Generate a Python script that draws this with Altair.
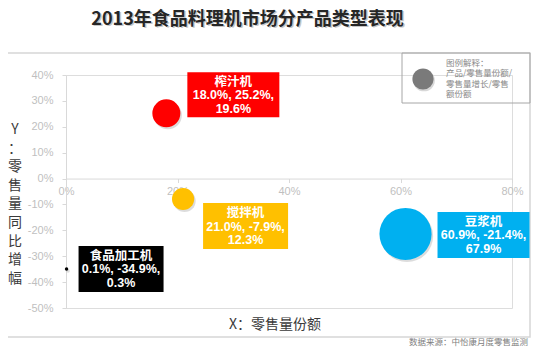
import altair as alt
import pandas as pd

# ---- data ----
products = ["榨汁机", "搅拌机", "豆浆机", "食品加工机"]
volume_share = [18.0, 21.0, 60.9, 0.1]      # X: 零售量份额 (%)
volume_growth = [25.2, -7.9, -21.4, -34.9]  # Y: 零售量同比增幅 (%)
value_share = [19.6, 12.3, 67.9, 0.3]       # bubble size: 零售额份额 (%)
x_ticks = [0, 20, 40, 60, 80]
y_ticks = [-50, -40, -30, -20, -10, 0, 10, 20, 30, 40]

title_text = "2013年食品料理机市场分产品类型表现"
x_title = "X：零售量份额"
y_title = "Y：零售量同比增幅"
legend_lines = ["图例解释：", "产品/零售量份额/", "零售量增长/零售", "额份额"]
source_text = "数据来源：中怡康月度零售监测"

# ---- styles ----
colors = ["#ff0000", "#ffc000", "#00b0f0", "#000000"]
# label box offsets (px) relative to bubble centre: dx1, dx2, dy1, dy2
box_offsets = {
    "榨汁机": (21, 113, -41, 4),
    "搅拌机": (20, 105, 4, 50),
    "豆浆机": (32, 124, -22, 24),
    "食品加工机": (12, 97, -23, 23),
}
W, H = 446, 233
CJK = "Noto Sans CJK SC"
LAT = "Liberation Sans, Noto Sans CJK SC"
LH = 13.5

df = pd.DataFrame({"name": products, "x": volume_share, "y": volume_growth, "z": value_share})
df["label"] = [f"{n}\n{x:.1f}%, {y:.1f}%,\n{z:.1f}%" for n, x, y, z in
               zip(products, volume_share, volume_growth, value_share)]

x0_offset = (40 / 90) * H - H  # put x axis at y = 0

X = alt.X("x:Q", scale=alt.Scale(domain=[0, 80], nice=False, zero=False),
          axis=alt.Axis(values=x_ticks, labelExpr="datum.value + '%'", title=None,
                        orient="bottom", offset=x0_offset, grid=False,
                        domainColor="#d9d9d9", tickColor="#d9d9d9", tickSize=4,
                        labelColor="#bfbfbf", labelFontSize=11, labelFont="Liberation Sans",
                        labelPadding=3, labelFlush=False))
Y = alt.Y("y:Q", scale=alt.Scale(domain=[-50, 40], nice=False, zero=False),
          axis=alt.Axis(values=y_ticks, labelExpr="datum.value + '%'", title=None,
                        grid=False, domainColor="#d9d9d9", tickColor="#d9d9d9", tickSize=4,
                        labelColor="#bfbfbf", labelFontSize=11, labelFont="Liberation Sans",
                        labelPadding=9))
size = alt.Size("z:Q", scale=alt.Scale(domain=[0, 67.9], range=[0, 2720]), legend=None)
color = alt.Color("name:N", scale=alt.Scale(domain=products, range=colors), legend=None)

one = pd.DataFrame({"k": [0]})

frame = alt.Chart(one).mark_rect(filled=False, stroke="#d6d6d6", strokeWidth=1.5).encode(
    x=alt.value(-64), x2=alt.value(464), y=alt.value(-22), y2=alt.value(262))

title_shadow = alt.Chart(one).mark_text(
    text=title_text, font=CJK, fontSize=18, fontWeight="bold", color="#9a9a9a", opacity=0.55,
    align="center", baseline="middle").encode(x=alt.value(183), y=alt.value(-54))
title = alt.Chart(one).mark_text(
    text=title_text, font=CJK, fontSize=18, fontWeight="bold", color="#262626",
    align="center", baseline="middle").encode(x=alt.value(181.5), y=alt.value(-55.5))

ytitle = alt.Chart(one).mark_text(
    text="\n".join(list(y_title)), lineBreak="\n", lineHeight=18.6, font=CJK, fontSize=14,
    color="#3a3a3a", align="center", baseline="middle").encode(x=alt.value(-51), y=alt.value(55))
xtitle = alt.Chart(one).mark_text(
    text=x_title, font=CJK, fontSize=14, color="#3a3a3a", align="center",
    baseline="middle").encode(x=alt.value(209), y=alt.value(250))
source = alt.Chart(one).mark_text(
    text=source_text, font=CJK, fontSize=8.5, color="#808080", align="right",
    baseline="middle").encode(x=alt.value(462), y=alt.value(267))

legend_box = alt.Chart(one).mark_rect(filled=False, stroke="#a6a6a6", strokeWidth=1).encode(
    x=alt.value(336), x2=alt.value(464), y=alt.value(-22), y2=alt.value(28))
legend_shadow = alt.Chart(one).mark_circle(size=470, color="#c8c8c8", opacity=0.7).encode(
    x=alt.value(358), y=alt.value(5.5))
legend_dot = alt.Chart(one).mark_circle(size=450, color="#7a7a7a", opacity=1).encode(
    x=alt.value(357), y=alt.value(4))
legend_text = alt.Chart(one).mark_text(
    text="\n".join(legend_lines), lineBreak="\n", lineHeight=10.5, font=CJK, fontSize=8.5,
    color="#8a8a8a", align="left", baseline="middle").encode(x=alt.value(380), y=alt.value(-12.5))

bub_shadow = alt.Chart(df).mark_circle(color="#c0c0c0", opacity=0.55, xOffset=1.5, yOffset=2).encode(
    x=X, y=Y, size=size)
bubbles = alt.Chart(df).mark_circle(opacity=1).encode(x=X, y=Y, size=size, color=color)

layers = [frame, title_shadow, title, ytitle, xtitle, source, legend_box, legend_shadow,
          legend_dot, legend_text, bub_shadow, bubbles]
for p, c in zip(products, colors):
    dx1, dx2, dy1, dy2 = box_offsets[p]
    sub = df[df["name"] == p]
    layers.append(alt.Chart(sub).mark_rect(color=c, xOffset=dx1, x2Offset=dx2,
                                           yOffset=dy1, y2Offset=dy2).encode(
        x=X, x2=alt.X2("x:Q"), y=Y, y2=alt.Y2("y:Q")))
    layers.append(alt.Chart(sub).mark_text(
        font=LAT, fontSize=12.5, fontWeight="bold", color="white", lineBreak="\n",
        lineHeight=LH, align="center", baseline="middle",
        xOffset=(dx1 + dx2) / 2, yOffset=(dy1 + dy2) / 2 - LH + 0.5).encode(
        x=X, y=Y, text="label:N"))

chart = alt.layer(*layers).properties(
    width=W, height=H, autosize="none",
    padding={"left": 58, "top": 67, "right": 30, "bottom": 39},
).configure_view(stroke=None).configure(background="white")

chart.save("out.html", embed_options={"renderer": "svg", "actions": False})
